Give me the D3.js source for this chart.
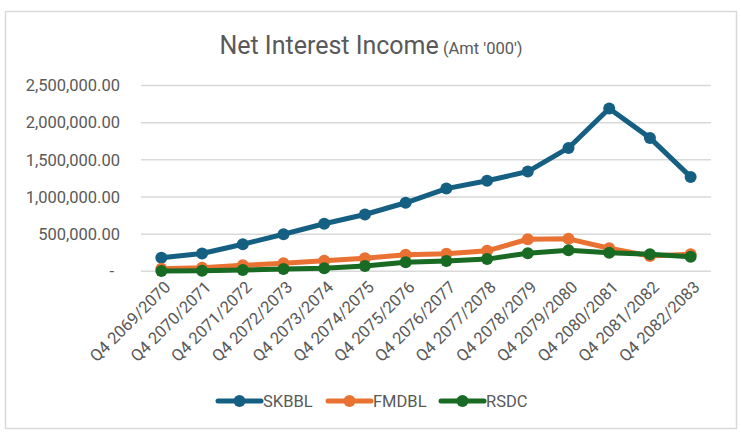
<!DOCTYPE html>
<html>
<head>
<meta charset="utf-8">
<script src="https://cdn.jsdelivr.net/npm/d3@7"></script>
<style>
  body { margin: 0; background: #fff; }
  text { font-family: Roboto, "Liberation Sans", sans-serif; fill: #595959; }
</style>
</head>
<body>
<div id="root"></div>
<script>
const width = 742;
const height = 435;

// data
const quarters = ["Q4 2069/2070", "Q4 2070/2071", "Q4 2071/2072", "Q4 2072/2073", "Q4 2073/2074",
	"Q4 2074/2075", "Q4 2075/2076", "Q4 2076/2077", "Q4 2077/2078", "Q4 2078/2079",
	"Q4 2079/2080", "Q4 2080/2081", "Q4 2081/2082", "Q4 2082/2083"];
const skbbl = [183000, 240000, 364000, 499000, 640000, 764000, 922000, 1113000, 1218000, 1342000, 1660000, 2190000, 1795000, 1270000];
const fmdbl = [35000, 49000, 81000, 108000, 143000, 175000, 222000, 235000, 276000, 431000, 437000, 310000, 206000, 230000];
const rsdc = [5000, 7000, 18000, 31000, 40000, 71000, 123000, 139000, 164000, 243000, 283000, 251000, 229000, 197000];
const yTicks = [0, 500000, 1000000, 1500000, 2000000, 2500000];
const seriesNames = ["SKBBL", "FMDBL", "RSDC"];
const seriesColors = ["#156082", "#E97132", "#196B24"];

const series = [skbbl, fmdbl, rsdc].map((values, i) => ({
	name: seriesNames[i], color: seriesColors[i], values: values
}));

const svg = d3.select("#root").append("svg")
	.attr("width", width)
	.attr("height", height);

// chart frame
svg.append("rect")
	.attr("x", 5.5).attr("y", 11.5)
	.attr("width", 731).attr("height", 417)
	.attr("fill", "#fff")
	.attr("stroke", "#d9d9d9")
	.attr("stroke-width", 1.5);

// title
const title = svg.append("text")
	.attr("x", 371).attr("y", 54)
	.attr("text-anchor", "middle");
title.append("tspan").text("Net Interest Income").style("font-size", "25px");
title.append("tspan").text(" (Amt '000')").style("font-size", "16.5px");

// scales
const x = d3.scalePoint()
	.domain(quarters)
	.range([141, 711])
	.padding(0.5);

const y = d3.scaleLinear()
	.domain([0, 2500000])
	.range([271.3, 85.5]);

// grid
svg.append("g")
	.selectAll("line")
	.data(yTicks).enter()
	.append("line")
		.attr("x1", 141).attr("x2", 711)
		.attr("y1", d => y(d)).attr("y2", d => y(d))
		.attr("stroke", "#d9d9d9")
		.attr("stroke-width", 1.5);

// y labels
const fmt = d3.format(",.2f");
svg.append("g")
	.selectAll("text")
	.data(yTicks).enter()
	.append("text")
		.attr("x", d => d === 0 ? 114 : 120)
		.attr("y", d => y(d))
		.attr("dy", "0.35em")
		.attr("text-anchor", "end")
		.style("font-size", "16.5px")
		.text(d => d === 0 ? "-" : fmt(d));

// x labels, rotated
svg.append("g")
	.selectAll("text")
	.data(quarters).enter()
	.append("text")
		.attr("transform", d => `translate(${x(d) + 6}, ${284}) rotate(-45)`)
		.attr("text-anchor", "end")
		.attr("dy", "0.35em")
		.style("font-size", "16.5px")
		.text(d => d);

// lines and markers
const line = d3.line()
	.x((d, i) => x(quarters[i]))
	.y(d => y(d));

const groups = svg.selectAll(".series")
	.data(series).enter()
	.append("g")
		.attr("class", "series");

groups.append("path")
	.attr("d", d => line(d.values))
	.attr("fill", "none")
	.attr("stroke", d => d.color)
	.attr("stroke-width", 5)
	.attr("stroke-linejoin", "round")
	.attr("stroke-linecap", "round");

groups.selectAll("circle")
	.data(d => d.values.map(v => ({ v: v, color: d.color })))
	.enter()
	.append("circle")
		.attr("cx", (d, i) => x(quarters[i]))
		.attr("cy", d => y(d.v))
		.attr("r", 6)
		.attr("fill", d => d.color);

// legend
const legendX = [218, 328, 441];
const legend = svg.selectAll(".legend")
	.data(series).enter()
	.append("g")
		.attr("class", "legend")
		.attr("transform", (d, i) => `translate(${legendX[i]}, 401)`);

legend.append("line")
	.attr("x1", 0).attr("x2", 43)
	.attr("stroke", d => d.color)
	.attr("stroke-width", 5)
	.attr("stroke-linecap", "round");

legend.append("circle")
	.attr("cx", 21.5).attr("r", 6)
	.attr("fill", d => d.color);

legend.append("text")
	.attr("x", 45)
	.attr("dy", "0.35em")
	.style("font-size", "16.5px")
	.text(d => d.name);
</script>
</body>
</html>
